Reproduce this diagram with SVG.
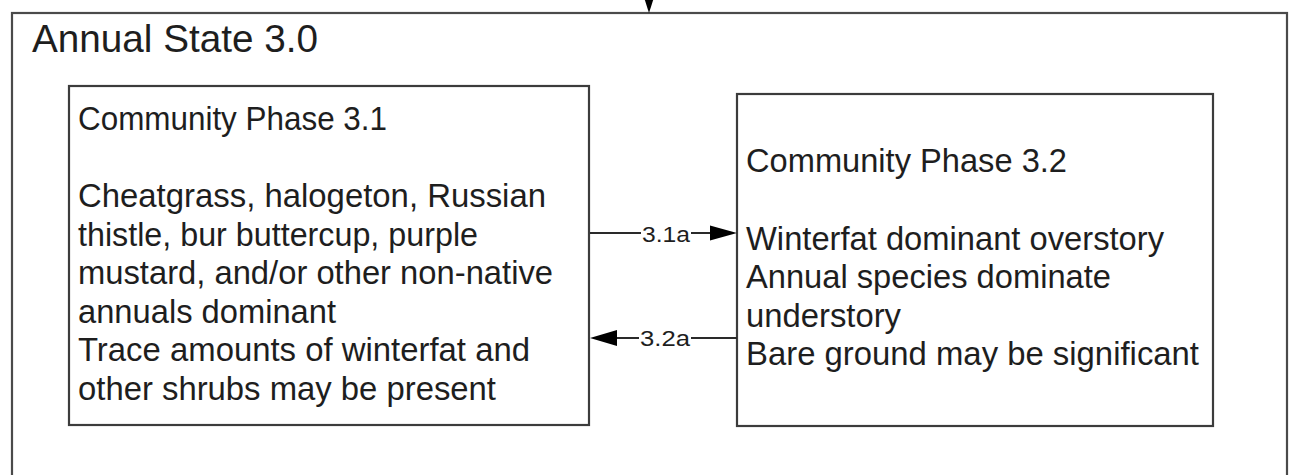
<svg xmlns="http://www.w3.org/2000/svg" width="1290" height="475" viewBox="0 0 1290 475">
<style>
.box{fill:#ffffff;stroke:#3c3c3c;stroke-width:2.2}
.outer{fill:#ffffff;stroke:#4a4a4a;stroke-width:2.2}
.t{font-family:"Liberation Sans",Arial,sans-serif;font-size:32.5px;fill:#1e1e1e}
.title{font-family:"Liberation Sans",Arial,sans-serif;font-size:39px;fill:#1e1e1e}
.lbl{font-family:"Liberation Sans",Arial,sans-serif;font-size:22px;fill:#1e1e1e}
.ln{fill:none;stroke:#2a2a2a;stroke-width:2}
.ah{fill:#000000}
</style>
<rect width="1290" height="475" fill="#ffffff"/>
<g id="state-3-0">
<rect class="outer" x="12" y="13" width="1275" height="480"/>
<text class="title" x="32" y="52" textLength="286" lengthAdjust="spacingAndGlyphs">Annual State 3.0</text>
</g>
<g id="incoming">
<line class="ln" x1="649" y1="-5" x2="649" y2="2"/>
<path class="ah" d="M641,-12 L657,-12 L649,13 Z"/>
</g>
<g id="phase-3-1">
<rect class="box" x="69" y="86" width="520" height="339"/>
<text class="t" x="78" y="130" textLength="309" lengthAdjust="spacingAndGlyphs">Community Phase 3.1</text>
<text class="t" x="78" y="207" textLength="468" lengthAdjust="spacingAndGlyphs">Cheatgrass, halogeton, Russian</text>
<text class="t" x="78" y="245.5" textLength="400" lengthAdjust="spacingAndGlyphs">thistle, bur buttercup, purple</text>
<text class="t" x="78" y="284" textLength="475" lengthAdjust="spacingAndGlyphs">mustard, and/or other non-native</text>
<text class="t" x="78" y="322.5" textLength="258" lengthAdjust="spacingAndGlyphs">annuals dominant</text>
<text class="t" x="78" y="361" textLength="452" lengthAdjust="spacingAndGlyphs">Trace amounts of winterfat and</text>
<text class="t" x="78" y="399.5" textLength="418" lengthAdjust="spacingAndGlyphs">other shrubs may be present</text>
</g>
<g id="phase-3-2">
<rect class="box" x="737" y="94" width="476" height="332"/>
<text class="t" x="746" y="172" textLength="321" lengthAdjust="spacingAndGlyphs">Community Phase 3.2</text>
<text class="t" x="746" y="249.5" textLength="418" lengthAdjust="spacingAndGlyphs">Winterfat dominant overstory</text>
<text class="t" x="746" y="288" textLength="365" lengthAdjust="spacingAndGlyphs">Annual species dominate</text>
<text class="t" x="746" y="326.5" textLength="155" lengthAdjust="spacingAndGlyphs">understory</text>
<text class="t" x="746" y="365" textLength="453" lengthAdjust="spacingAndGlyphs">Bare ground may be significant</text>
</g>
<g id="connectors">
<g id="t-3-1a">
<path class="ln" d="M590,233 H641 M691,233 H711"/>
<path class="ah" d="M710,225.5 L737,233 L710,240.5 Z"/>
<text class="lbl" x="642" y="242" textLength="48" lengthAdjust="spacingAndGlyphs">3.1a</text>
</g>
<g id="t-3-2a">
<path class="ln" d="M616,338 H639 M691,338 H737"/>
<path class="ah" d="M617,330 L590,338 L617,346 Z"/>
<text class="lbl" x="640" y="346" textLength="50" lengthAdjust="spacingAndGlyphs">3.2a</text>
</g>
</g>
</svg>
